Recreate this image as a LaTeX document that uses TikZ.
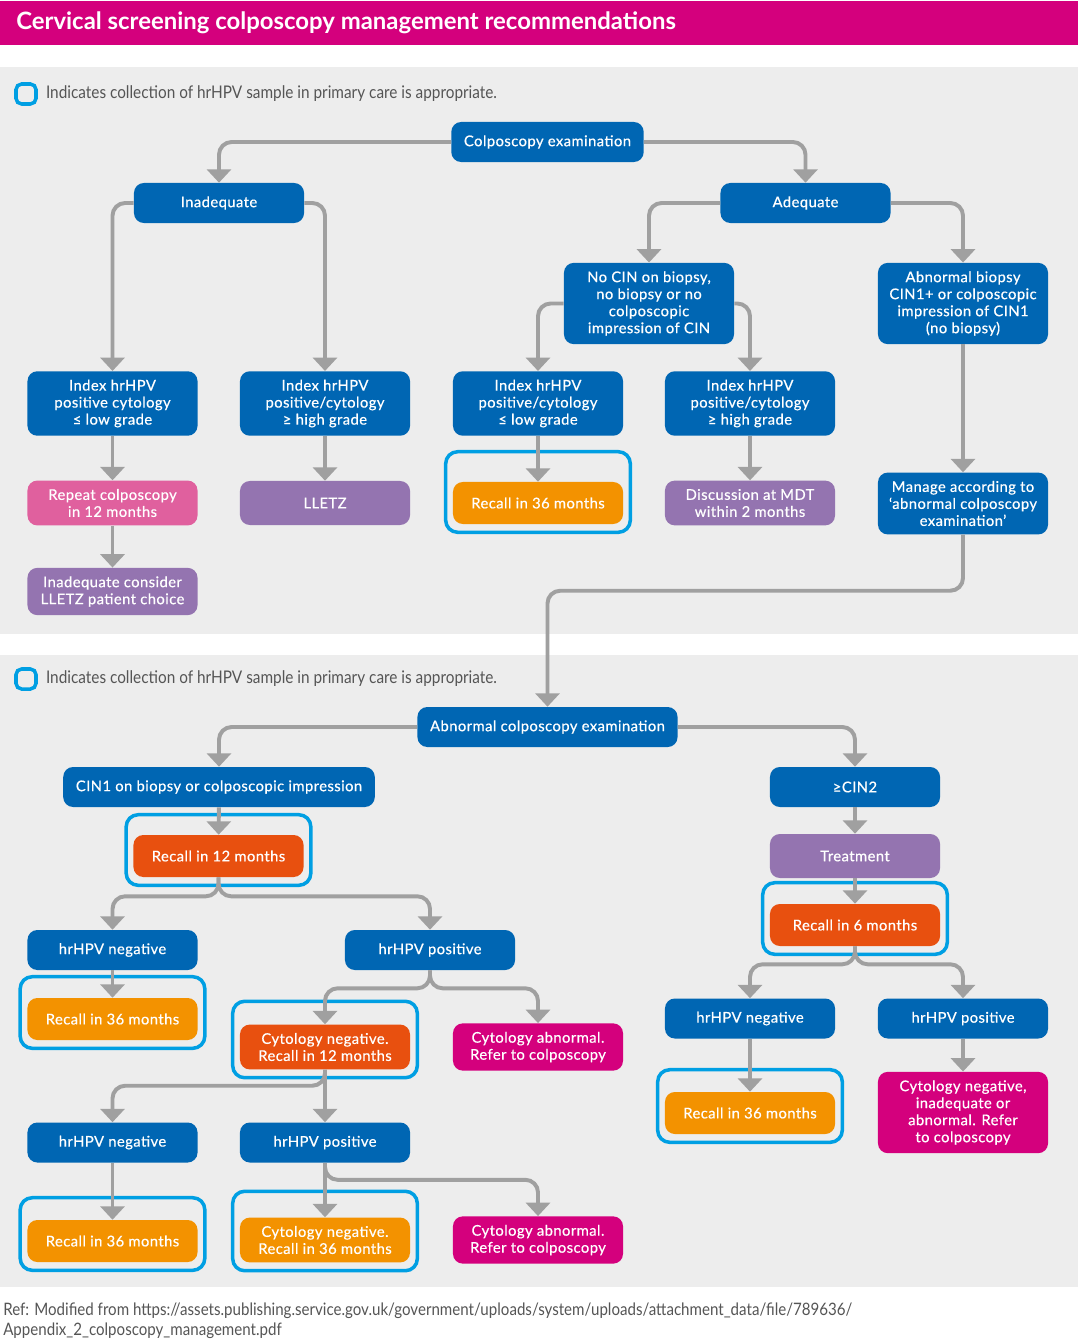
\documentclass[tikz,border=0pt]{standalone}
\usepackage{fontspec}
\setmainfont{Lato}
\newfontfamily\colponarrow{Lato}[FakeStretch=0.88]
\newfontfamily\colpoboxfamily{Lato}[FakeBold=0.5, LetterSpace=3]
\usepackage{tikz}
\usetikzlibrary{arrows.meta,positioning}
\definecolor{colpoblue}{HTML}{0066B3}
\definecolor{colpomagenta}{HTML}{D4007D}
\definecolor{colpopink}{HTML}{E0609E}
\definecolor{colpopurple}{HTML}{9474B0}
\definecolor{colpoorange}{HTML}{F39200}
\definecolor{colpored}{HTML}{E8500F}
\definecolor{colpoframe}{HTML}{009FE3}
\definecolor{colpogrey}{HTML}{A0A0A0}
\definecolor{colpopanel}{HTML}{EDEDED}
\definecolor{colpotext}{HTML}{555555}
\newcommand{\colpofont}{\colpoboxfamily\linespread{1}\fontsize{10.5}{12.1}\selectfont}
\newcommand{\colpotitlefont}{\bfseries\fontsize{17}{20}\selectfont}
\newcommand{\colpolegendfont}{\colponarrow\fontsize{12.4}{14}\selectfont}
\newcommand{\colporeffont}{\colponarrow\fontsize{12.2}{14.2}\selectfont}
\tikzset{
    colpo/chart/.style={x=0.025cm, y=-0.025cm, font=\colpofont, every node/.style={align=center}},
    colpo/box/.style={rectangle, rounded corners=7pt, fill=colpoblue, text=white, minimum width=4.25cm, minimum height=1cm, inner xsep=4pt, inner ysep=6pt},
    colpo/wide/.style={colpo/box, minimum width=0cm, inner xsep=9pt},
    colpo/pink/.style={colpo/box, fill=colpopink, minimum height=1.1cm},
    colpo/purple/.style={colpo/box, fill=colpopurple, minimum height=1.1cm},
    colpo/orange/.style={colpo/box, fill=colpoorange, minimum height=1.05cm},
    colpo/red/.style={colpo/box, fill=colpored, minimum height=1.05cm},
    colpo/magenta/.style={colpo/box, fill=colpomagenta, minimum height=1.1cm},
    colpo/frame/.style={draw=colpoframe, line width=2.5pt, rounded corners=8.5pt},
    colpo/key/.style={rectangle, draw=colpoframe, line width=2.5pt, rounded corners=4pt, fill=colpopanel, minimum size=0.5cm, inner sep=0pt},
    colpo/legend/.style={font=\colpolegendfont, text=colpotext, inner sep=0pt},
    colpo/arrow/.style={-{Triangle[width=17pt,length=9.5pt]}, line width=2.8pt, draw=colpogrey, rounded corners=9pt}
}
\begin{document}
\begin{tikzpicture}[colpo/chart]
    \useasboundingbox (0,0) rectangle (1080,1340);
    % title bar and panels
    \fill[colpomagenta] (0,1) rectangle (1078,45);
    \fill[colpopanel] (0,67) rectangle (1078,634);
    \fill[colpopanel] (0,655) rectangle (1078,1287);
    \node[font=\colpotitlefont, text=white, anchor=west, inner sep=0pt] (title) at (16,23) {Cervical screening colposcopy management recommendations};
    \node[colpo/key] (key1) at (26,94) {};
    \node[colpo/legend, right=0.2cm of key1] (legend1) {Indicates collection of hrHPV sample in primary care is appropriate.};
    \node[colpo/key] (key2) at (26,679) {};
    \node[colpo/legend, right=0.2cm of key2] (legend2) {Indicates collection of hrHPV sample in primary care is appropriate.};
    % adequacy of the examination
    \node[colpo/wide] (colpo) at (547.5,142) {Colposcopy examination};
    \node[colpo/box] (inadeq) at (219,203) {Inadequate};
    \node[colpo/box] (adeq) at (805.5,203) {Adequate};
    \node[colpo/box] (nocin) at (649,303.5) {No CIN on biopsy,\\no biopsy or no\\colposcopic\\impression of CIN};
    \node[colpo/box] (abnbx) at (963,303.5) {Abnormal biopsy\\CIN1+ or colposcopic\\impression of CIN1\\(no biopsy)};
    \node[colpo/box] (idx1) at (112.5,403.5) {Index hrHPV\\positive cytology\\≤ low grade};
    \node[colpo/box] (idx2) at (325,403.5) {Index hrHPV\\positive/cytology\\≥ high grade};
    \node[colpo/box] (idx3) at (538,403.5) {Index hrHPV\\positive/cytology\\≤ low grade};
    \node[colpo/box] (idx4) at (750,403.5) {Index hrHPV\\positive/cytology\\≥ high grade};
    \node[colpo/pink] (repeatcol) at (112.5,503) {Repeat colposcopy\\in 12 months};
    \node[colpo/purple] (lletz) at (325,503) {LLETZ};
    \node[colpo/orange] (rec36a) at (538,503) {Recall in 36 months};
    \node[colpo/purple] (mdt) at (750,503) {Discussion at MDT\\within 2 months};
    \node[colpo/box] (manage) at (963,503.5) {Manage according to\\‘abnormal colposcopy\\examination’};
    \node[colpo/purple] (inadlletz) at (112.5,591.5) {Inadequate consider\\LLETZ patient choice};
    % abnormal colposcopy examination
    \node[colpo/wide] (abncol) at (547.5,727) {Abnormal colposcopy examination};
    \node[colpo/wide] (cin1) at (219,787) {CIN1 on biopsy or colposcopic impression};
    \node[colpo/box] (cin2) at (855,787) {≥CIN2};
    \node[colpo/red] (rec12) at (218.5,856) {Recall in 12 months};
    \node[colpo/purple] (treat) at (855,856) {Treatment};
    \node[colpo/red] (rec6) at (855,925) {Recall in 6 months};
    \node[colpo/box] (hpvneg1) at (112.5,950) {hrHPV negative};
    \node[colpo/box] (hpvpos1) at (430,950) {hrHPV positive};
    \node[colpo/orange] (rec36b) at (112.5,1019) {Recall in 36 months};
    \node[colpo/box] (hpvneg3) at (750,1018.5) {hrHPV negative};
    \node[colpo/box] (hpvpos3) at (963,1018.5) {hrHPV positive};
    \node[colpo/red] (cytneg12) at (325,1047) {Cytology negative.\\Recall in 12 months};
    \node[colpo/magenta] (cytabn1) at (538,1047) {Cytology abnormal.\\Refer to colposcopy};
    \node[colpo/orange] (rec36d) at (750,1113) {Recall in 36 months};
    \node[colpo/magenta] (cytneg3) at (963,1112.5) {Cytology negative,\\inadequate or\\abnormal. Refer\\to colposcopy};
    \node[colpo/box] (hpvneg2) at (112.5,1142.5) {hrHPV negative};
    \node[colpo/box] (hpvpos2) at (325,1142.5) {hrHPV positive};
    \node[colpo/orange] (rec36c) at (112.5,1241) {Recall in 36 months};
    \node[colpo/orange] (cytneg36) at (325,1240) {Cytology negative.\\Recall in 36 months};
    \node[colpo/magenta] (cytabn2) at (538,1240) {Cytology abnormal.\\Refer to colposcopy};
    \node[font=\colporeffont, text=colpotext, align=left, anchor=west, inner sep=0pt] (ref) at (3,1321) {Ref: Modified from https://assets.publishing.service.gov.uk/government/uploads/system/uploads/attachment\_data/file/789636/\\Appendix\_2\_colposcopy\_management.pdf};
    % hrHPV sample frames
    \foreach \inner/\extra in {rec36a/30,rec12/20,rec6/21,rec36b/21,cytneg12/23,rec36c/22,cytneg36/26,rec36d/22}
        \draw[colpo/frame] ([shift={(-7,-\extra)}]\inner.north west) rectangle ([shift={(7,8)}]\inner.south east);
    % connectors
    \foreach \source/\target in {idx1/repeatcol,repeatcol/inadlletz,idx2/lletz,idx3/rec36a,idx4/mdt,abnbx/manage,cin1/rec12,cin2/treat,treat/rec6,hpvneg1/rec36b,hpvneg3/rec36d,hpvpos3/cytneg3,cytneg12/hpvpos2,hpvneg2/rec36c,hpvpos2/cytneg36}
        \draw[colpo/arrow] (\source) -- (\target);
    \draw[colpo/arrow] (colpo.west) -| (inadeq.north);
    \draw[colpo/arrow] (colpo.east) -| (adeq.north);
    \draw[colpo/arrow] (inadeq.west) -| (idx1.north);
    \draw[colpo/arrow] (inadeq.east) -| (idx2.north);
    \draw[colpo/arrow] (adeq.west) -| (nocin.north);
    \draw[colpo/arrow] (adeq.east) -| (abnbx.north);
    \draw[colpo/arrow] (nocin.west) -| (idx3.north);
    \draw[colpo/arrow] (nocin.east) -| (idx4.north);
    \draw[colpo/arrow] (manage.south) -- ++(0,56) -| (abncol.north);
    \draw[colpo/arrow] (abncol.west) -| (cin1.north);
    \draw[colpo/arrow] (abncol.east) -| (cin2.north);
    \draw[colpo/arrow] (rec12.south) -- ++(0,19) -| (hpvneg1.north);
    \draw[colpo/arrow] (rec12.south) -- ++(0,19) -| (hpvpos1.north);
    \draw[colpo/arrow] (hpvpos1.south) -- ++(0,18) -| (cytneg12.north);
    \draw[colpo/arrow] (hpvpos1.south) -- ++(0,18) -| (cytabn1.north);
    \draw[colpo/arrow] (cytneg12.south) -- ++(0,16) -| (hpvneg2.north);
    \draw[colpo/arrow] (hpvpos2.south) -- ++(0,17) -| (cytabn2.north);
    \draw[colpo/arrow] (rec6.south) -- ++(0,18) -| (hpvneg3.north);
    \draw[colpo/arrow] (rec6.south) -- ++(0,18) -| (hpvpos3.north);
\end{tikzpicture}
\end{document}
